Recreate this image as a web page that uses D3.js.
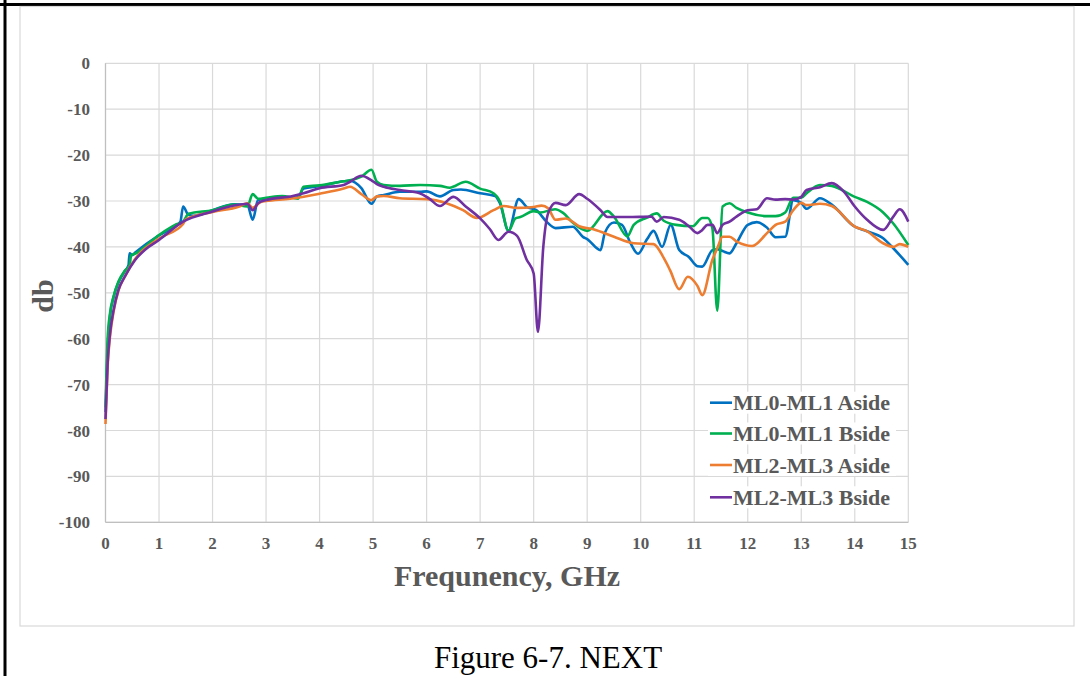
<!DOCTYPE html>
<html>
<head>
<meta charset="utf-8">
<script src="https://cdn.jsdelivr.net/npm/d3@7"></script>
<style>
    body { margin: 0; background: #fff; }
    text { font-family: "Liberation Serif", "Times New Roman", serif; }
</style>
</head>
<body>
<script>
// Frequency (GHz) / NEXT (dB) pairs
var mlAsideA = [[0,-76],[0.04,-62],[0.085,-55],[0.15,-51],[0.24,-47.8],[0.36,-45.3],[0.43,-44],[0.45,-41.4],[0.5,-41.8],[0.55,-41.3],[1.0,-37.5],[1.3,-35.5],[1.4,-34.5],[1.45,-31.2],[1.55,-33],[1.65,-33.2],[2.0,-32],[2.4,-30.7],[2.65,-30.8],[2.75,-34.1],[2.85,-29.8],[3.0,-29.5],[3.45,-29.3],[3.6,-29.2],[3.7,-27.3],[4.0,-26.8],[4.45,-25.7],[4.57,-25.6],[4.78,-27.2],[4.97,-30.6],[5.07,-29],[5.2,-28.7],[5.5,-28],[5.87,-28],[6.0,-27.9],[6.25,-29],[6.5,-27.6],[6.64,-27.5],[7.0,-28.3],[7.28,-28.9],[7.37,-30.5],[7.53,-36.5],[7.72,-29.6],[7.87,-31.3],[8.05,-32],[8.24,-34.5],[8.41,-35.9],[8.73,-35.6],[8.92,-37.8],[9.0,-38.3],[9.25,-40.7],[9.33,-36.9],[9.5,-34.7],[9.65,-35.2],[9.81,-39.2],[9.95,-41.5],[10.12,-38.3],[10.24,-36.5],[10.4,-40],[10.56,-35.2],[10.72,-40.7],[10.9,-42.2],[11.06,-44.2],[11.15,-44.3],[11.34,-40.7],[11.43,-40.5],[11.53,-40.9],[11.66,-41.4],[11.79,-39.2],[12.0,-35.2],[12.17,-34.6],[12.36,-35.8],[12.52,-37.9],[12.7,-37.8],[12.85,-29.8],[13.0,-30.4],[13.1,-31.7],[13.35,-29.4],[13.57,-30.8],[14.0,-35.6],[14.23,-36.6],[14.53,-38.1],[14.72,-40.3],[15.0,-43.9]];

var mlBsideB = [[0,-75],[0.04,-60],[0.085,-54.4],[0.15,-50.8],[0.24,-47.6],[0.36,-45.2],[0.45,-44],[0.48,-41.8],[0.55,-41.5],[1.0,-37.4],[1.3,-35.2],[1.45,-34.5],[1.55,-32.8],[2.0,-32],[2.4,-30.8],[2.65,-31.2],[2.75,-28.5],[2.85,-29.5],[3.0,-29.3],[3.3,-28.9],[3.6,-29.5],[3.7,-26.9],[4.0,-26.6],[4.45,-25.7],[4.57,-25.5],[4.78,-24.7],[4.97,-23.2],[5.07,-25.8],[5.2,-26.5],[5.5,-26.7],[5.88,-26.5],[6.25,-26.7],[6.43,-27.1],[6.73,-25.8],[7.0,-27.3],[7.25,-28.3],[7.37,-30.1],[7.53,-36.5],[7.66,-33.8],[7.75,-33.5],[8.0,-32.2],[8.12,-32.5],[8.4,-31.8],[8.55,-32.6],[8.73,-34.7],[9.0,-36.5],[9.38,-32.2],[9.5,-33.4],[9.75,-37.7],[9.87,-35.2],[10.12,-33.6],[10.3,-32.7],[10.43,-34.3],[10.66,-35.2],[10.97,-35.5],[11.15,-33.7],[11.25,-33.7],[11.34,-36],[11.43,-53.9],[11.53,-31.2],[11.66,-30.5],[11.79,-31.5],[12.0,-32.5],[12.36,-33.3],[12.52,-33.3],[12.7,-32.5],[12.85,-29.3],[13.0,-29.3],[13.1,-28.3],[13.35,-26.5],[13.57,-26.7],[14.0,-29.1],[14.23,-30.2],[14.53,-32.5],[14.72,-34.9],[15.0,-39.6]];

var ml23AsideA = [[0,-78.6],[0.04,-66],[0.085,-59.5],[0.15,-54.2],[0.24,-49.6],[0.36,-46.5],[0.55,-42.7],[1.0,-38.2],[1.45,-35],[1.5,-34],[2.0,-32.4],[2.5,-31.2],[2.65,-30.5],[2.75,-31.5],[2.9,-30.2],[3.0,-30],[3.45,-29.5],[4.0,-28.4],[4.45,-27.3],[4.57,-26.9],[4.78,-28.5],[4.97,-29.8],[5.07,-29],[5.2,-28.9],[5.5,-29.4],[6.0,-29.6],[6.37,-30.5],[6.68,-32],[6.94,-33.7],[7.25,-32],[7.44,-31.1],[7.69,-31.5],[8.0,-31.3],[8.15,-31],[8.27,-31.6],[8.41,-34.1],[8.6,-33.8],[8.85,-35.5],[9.13,-36.2],[9.5,-37.8],[9.87,-39.2],[10.24,-39.4],[10.43,-42.4],[10.55,-45.1],[10.72,-49.2],[10.88,-46.5],[11.06,-48.5],[11.15,-50.5],[11.34,-42.8],[11.43,-40.3],[11.53,-37.8],[11.66,-37.8],[11.79,-38.8],[12.08,-39.8],[12.36,-37],[12.52,-35.2],[12.7,-34.5],[12.85,-32],[13.0,-30.4],[13.1,-30.9],[13.35,-30.6],[13.57,-31.1],[14.0,-35.6],[14.23,-36.6],[14.53,-39.2],[14.72,-40],[14.84,-39.4],[15.0,-40]];

var ml23BsideB = [[0,-77.5],[0.04,-65.3],[0.085,-58.8],[0.15,-53.8],[0.24,-49.4],[0.36,-46.5],[0.55,-42.9],[0.75,-40.5],[1.0,-38.5],[1.45,-34.5],[2.0,-32.3],[2.4,-31],[2.65,-30.6],[2.75,-32],[2.85,-30.5],[3.0,-29.8],[3.5,-28.9],[3.7,-28.3],[4.0,-27.2],[4.45,-26.5],[4.57,-25.8],[4.78,-24.5],[4.97,-25.5],[5.07,-26.3],[5.2,-26.9],[5.5,-27.6],[5.87,-28.3],[6.05,-29.5],[6.25,-31.1],[6.5,-29.1],[6.73,-31.2],[7.0,-33.8],[7.18,-36.1],[7.34,-38.5],[7.53,-36.7],[7.69,-37.6],[7.87,-42.8],[8.0,-45.8],[8.08,-58.5],[8.18,-40],[8.27,-32.7],[8.41,-30.4],[8.6,-30.9],[8.85,-28.5],[9.0,-29.5],[9.25,-32],[9.38,-33.5],[9.75,-33.5],[10.2,-33.4],[10.3,-34.5],[10.43,-33.5],[10.72,-34.1],[10.9,-35.5],[11.06,-37],[11.15,-36.3],[11.25,-35.2],[11.34,-35.2],[11.43,-37],[11.53,-35.2],[11.66,-34.5],[11.79,-33.4],[12.0,-32],[12.17,-31.8],[12.36,-29.4],[12.52,-29.7],[12.7,-29.6],[12.85,-29.7],[13.0,-29.1],[13.1,-27.6],[13.35,-27],[13.57,-26.1],[13.8,-28],[14.0,-31.2],[14.23,-34.1],[14.53,-36.3],[14.72,-33.4],[14.84,-31.8],[15.0,-34.5]];

var seriesNames = ["ML0-ML1 Aside", "ML0-ML1 Bside", "ML2-ML3 Aside", "ML2-ML3 Bside"];
var seriesData = [mlAsideA, mlBsideB, ml23AsideA, ml23BsideB];
var seriesColors = ["#0070c0", "#00b050", "#ed7d31", "#7030a0"];
var xTicks = d3.range(0, 16, 1);
var yTicks = d3.range(-100, 1, 10);

function drawChart() {
    var width = 1090,
        height = 676;

    var svg = d3.select("body")
        .append("svg")
        .attr("width", width)
        .attr("height", height);

    svg.append("rect").attr("width", width).attr("height", height).attr("fill", "#fff");

    // page frame lines (top and left)
    svg.append("line").attr("x1", 0).attr("x2", width).attr("y1", 4.5).attr("y2", 4.5)
        .attr("stroke", "#000").attr("stroke-width", 3);
    svg.append("line").attr("x1", 5).attr("x2", 5).attr("y1", 0).attr("y2", height)
        .attr("stroke", "#000").attr("stroke-width", 3);

    // chart area border
    svg.append("rect")
        .attr("x", 20).attr("y", 6.5).attr("width", 1054).attr("height", 619.5)
        .attr("fill", "none").attr("stroke", "#d9d9d9").attr("stroke-width", 1.2);

    var left = 105.5, top = 63.3, right = 908.3, bottom = 522.3;

    var x = d3.scaleLinear().domain([0, 15]).range([left, right]);
    var y = d3.scaleLinear().domain([-100, 0]).range([bottom, top]);

    // grid
    svg.append("g").selectAll("line").data(xTicks).enter().append("line")
        .attr("x1", function(d) { return x(d); }).attr("x2", function(d) { return x(d); })
        .attr("y1", top).attr("y2", bottom)
        .attr("stroke", "#d9d9d9").attr("stroke-width", 1.2);
    svg.append("g").selectAll("line").data(yTicks).enter().append("line")
        .attr("x1", left).attr("x2", right)
        .attr("y1", function(d) { return y(d); }).attr("y2", function(d) { return y(d); })
        .attr("stroke", "#d9d9d9").attr("stroke-width", 1.2);

    // axes lines
    svg.append("line").attr("x1", left).attr("x2", left).attr("y1", top).attr("y2", bottom)
        .attr("stroke", "#bfbfbf").attr("stroke-width", 1.2);
    svg.append("line").attr("x1", left).attr("x2", right).attr("y1", bottom).attr("y2", bottom)
        .attr("stroke", "#bfbfbf").attr("stroke-width", 1.2);

    // tick labels
    svg.append("g").selectAll("text").data(yTicks).enter().append("text")
        .attr("x", 90).attr("y", function(d) { return y(d) + 6; })
        .attr("text-anchor", "end")
        .attr("font-size", 17).attr("font-weight", "bold").attr("fill", "#595959")
        .text(function(d) { return d; });
    svg.append("g").selectAll("text").data(xTicks).enter().append("text")
        .attr("x", function(d) { return x(d); }).attr("y", 549)
        .attr("text-anchor", "middle")
        .attr("font-size", 17).attr("font-weight", "bold").attr("fill", "#595959")
        .text(function(d) { return d; });

    // axis titles
    svg.append("text")
        .attr("x", 507).attr("y", 586)
        .attr("text-anchor", "middle")
        .attr("font-size", 30).attr("font-weight", "bold").attr("fill", "#595959")
        .text("Frequnency, GHz");
    svg.append("text")
        .attr("transform", "translate(53,296) rotate(-90)")
        .attr("text-anchor", "middle")
        .attr("font-size", 30).attr("font-weight", "bold").attr("fill", "#595959")
        .text("db");

    // series lines
    var line = d3.line()
        .x(function(d) { return x(d[0]); })
        .y(function(d) { return y(d[1]); })
        .curve(d3.curveMonotoneX);

    svg.append("g").selectAll("path").data(seriesData).enter().append("path")
        .attr("d", line)
        .attr("fill", "none")
        .attr("stroke", function(d, i) { return seriesColors[i]; })
        .attr("stroke-width", 2.6)
        .attr("stroke-linejoin", "round");

    // legend
    var legendY = [402.7, 433.5, 465, 497.3];
    var legend = svg.append("g").selectAll("g").data(seriesNames).enter().append("g")
        .attr("transform", function(d, i) { return "translate(0," + legendY[i] + ")"; });
    legend.append("rect")
        .attr("x", 708).attr("y", -11).attr("width", 188).attr("height", 22)
        .attr("fill", "#fff");
    legend.append("line")
        .attr("x1", 710).attr("x2", 732).attr("y1", 0).attr("y2", 0)
        .attr("stroke", function(d, i) { return seriesColors[i]; })
        .attr("stroke-width", 2.6);
    legend.append("text")
        .attr("x", 733).attr("y", 7.5)
        .attr("font-size", 22).attr("font-weight", "bold").attr("fill", "#595959")
        .text(function(d) { return d; });

    // caption
    svg.append("text")
        .attr("x", 548).attr("y", 668)
        .attr("text-anchor", "middle")
        .attr("font-size", 31).attr("fill", "#000")
        .text("Figure 6-7. NEXT");
}

drawChart();
</script>
</body>
</html>
